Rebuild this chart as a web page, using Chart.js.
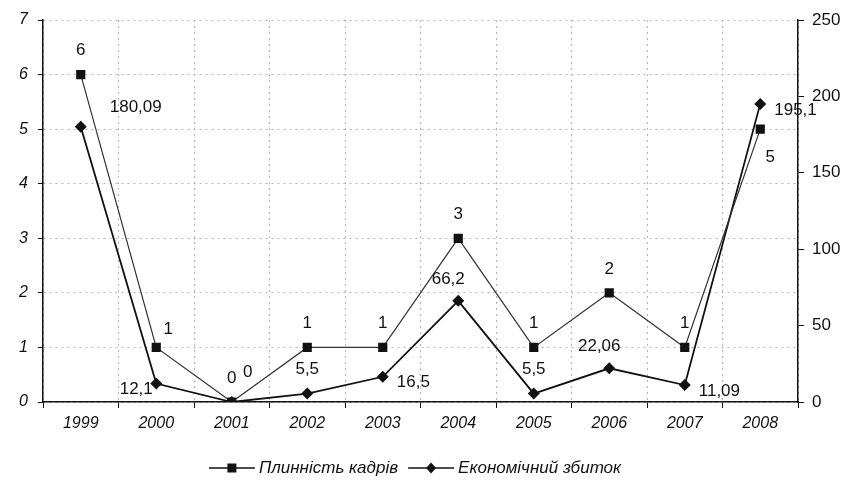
<!DOCTYPE html>
<html>
<head>
<meta charset="utf-8">
<script src="https://cdn.jsdelivr.net/npm/chart.js@4.4.1/dist/chart.umd.min.js"></script>
<style>
  html, body { margin: 0; padding: 0; background: #fff; }
  .box { width: 853px; height: 489px; position: relative; }
</style>
</head>
<body>
<div class="box"><canvas id="chart" width="853" height="489"></canvas></div>
<script>
const years = ["1999", "2000", "2001", "2002", "2003", "2004", "2005", "2006", "2007", "2008"];
const turnover = [6, 1, 0, 1, 1, 3, 1, 2, 1, 5];
const damage = [180.09, 12.1, 0, 5.5, 16.5, 66.2, 5.5, 22.06, 11.09, 195.1];
const turnoverName = "Плинність кадрів";
const damageName = "Економічний збиток";

// where each value label sits relative to its point
const turnoverAnchor = ["top", "topRight", "topRightFar", "top", "top", "top", "top", "top", "top", "bottomRight"];
const damageAnchor = ["topRightWide", "bottomLeft", "top", "top", "right", "topLeft", "top", "topLeft", "right", "right"];

const anchorShift = {
  top: [0, -24],
  topRight: [12, -18],
  topRightFar: [16, -30],
  topLeft: [-10, -22],
  topRightWide: [55, -20],
  bottomRight: [10, 28],
  bottomLeft: [-20, 6],
  right: [14, 6],
};

const fmt = (v) => String(v).replace(".", ",");

const valueLabels = {
  id: "valueLabels",
  afterDatasetsDraw(chart) {
    const ctx = chart.ctx;
    ctx.save();
    ctx.font = "17px 'Liberation Sans', Arial, sans-serif";
    ctx.fillStyle = "#111";
    ctx.textBaseline = "middle";
    chart.data.datasets.forEach((ds, di) => {
      const anchors = di === 0 ? turnoverAnchor : damageAnchor;
      chart.getDatasetMeta(di).data.forEach((pt, i) => {
        const a = anchors[i];
        const [dx, dy] = anchorShift[a];
        ctx.textAlign = a === "right" ? "left" : "center";
        ctx.fillText(fmt(ds.data[i]), pt.x + dx, pt.y + dy);
      });
    });
    ctx.restore();
  },
};

function drawMarker(ctx, style, x, y) {
  ctx.beginPath();
  if (style === "rect") {
    ctx.rect(x - 4.5, y - 4.5, 9, 9);
  } else {
    ctx.moveTo(x, y - 5.5);
    ctx.lineTo(x + 5, y);
    ctx.lineTo(x, y + 5.5);
    ctx.lineTo(x - 5, y);
    ctx.closePath();
  }
  ctx.fill();
}

const bottomLegend = {
  id: "bottomLegend",
  afterDraw(chart) {
    const ctx = chart.ctx;
    ctx.save();
    ctx.font = "italic 17px 'Liberation Sans', Arial, sans-serif";
    ctx.textBaseline = "middle";
    ctx.fillStyle = "#111";
    ctx.strokeStyle = "#111";
    ctx.lineWidth = 1.3;
    const y = 468;
    const items = [
      { text: turnoverName, style: "rect" },
      { text: damageName, style: "rectRot" },
    ];
    const lineW = 46, gap = 4, between = 10;
    const widths = items.map((it) => lineW + gap + ctx.measureText(it.text).width);
    const total = widths[0] + widths[1] + between;
    let x = 415 - total / 2;
    items.forEach((it, i) => {
      ctx.beginPath();
      ctx.moveTo(x, y);
      ctx.lineTo(x + lineW, y);
      ctx.stroke();
      drawMarker(ctx, it.style, x + lineW / 2, y);
      ctx.fillText(it.text, x + lineW + gap, y);
      x += widths[i] + between;
    });
    ctx.restore();
  },
};

const ctx = document.getElementById("chart").getContext("2d");
new Chart(ctx, {
  type: "line",
  data: {
    labels: years,
    datasets: [
      {
        label: turnoverName,
        data: turnover,
        yAxisID: "y",
        borderColor: "#333",
        borderWidth: 1.2,
        backgroundColor: "#111",
        pointStyle: "rect",
        pointRadius: 6.5,
        pointBorderWidth: 0,
        tension: 0,
      },
      {
        label: damageName,
        data: damage,
        yAxisID: "y1",
        borderColor: "#111",
        borderWidth: 1.8,
        backgroundColor: "#111",
        pointStyle: "rectRot",
        pointRadius: 6,
        pointBorderWidth: 0,
        tension: 0,
      },
    ],
  },
  options: {
    responsive: false,
    animation: false,
    layout: { padding: { top: 20, bottom: 52, left: 0, right: 0 } },
    plugins: {
      legend: { display: false },
      tooltip: { enabled: false },
    },
    scales: {
      x: {
        offset: true,
        grid: {
          offset: true,
          color: "#b5b5b5",
          lineWidth: 1,
          tickLength: 6,
          tickColor: "#111",
          tickBorderDash: [],
        },
        border: { display: true, color: "#111", width: 1.5, dash: [2, 4] },
        ticks: {
          color: "#111",
          font: { family: "'Liberation Sans', Arial, sans-serif", size: 16, style: "italic" },
          padding: 6,
          maxRotation: 0,
        },
        afterFit(scale) { scale.height = 35; },
      },
      y: {
        position: "left",
        min: 0,
        max: 7,
        ticks: {
          stepSize: 1,
          color: "#111",
          font: { family: "'Liberation Sans', Arial, sans-serif", size: 16, style: "italic" },
          padding: 10,
        },
        grid: { color: "#b5b5b5", tickLength: 5, tickColor: "#111", tickBorderDash: [] },
        border: { color: "#111", width: 1.5, dash: [2, 4] },
        afterFit(scale) { scale.width = 43; },
      },
      y1: {
        position: "right",
        min: 0,
        max: 250,
        ticks: {
          stepSize: 50,
          color: "#111",
          font: { family: "'Liberation Sans', Arial, sans-serif", size: 17 },
          padding: 8,
        },
        grid: { drawOnChartArea: false, tickLength: 6, color: "#111" },
        border: { color: "#111", width: 1.5 },
        afterFit(scale) { scale.width = 55; },
      },
    },
  },
  plugins: [valueLabels, bottomLegend],
});
</script>
</body>
</html>
